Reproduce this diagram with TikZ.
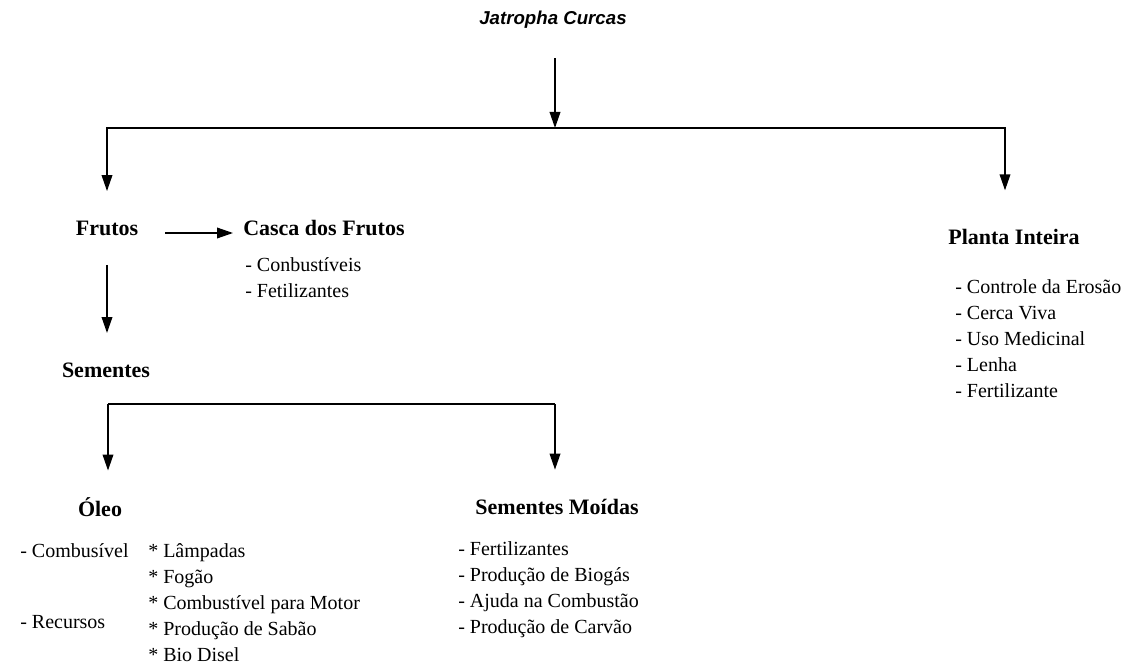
\documentclass[tikz,border=0pt]{standalone}
\usepackage{fontspec}
\setmainfont{Liberation Serif}
\newfontfamily\titlefont{Liberation Sans}
\usetikzlibrary{arrows.meta}

\tikzset{
  head/.style={inner sep=0pt, font=\fontsize{16.5}{19.5}\selectfont\bfseries},
  items/.style={inner sep=0pt, align=left, anchor=north west, font=\fontsize{15}{19.5}\selectfont},
  arr/.style={line width=1.1pt, -{Triangle[length=12pt,width=8pt]}},
  ln/.style={line width=1.1pt}
}

\begin{document}
\begin{tikzpicture}[x=0.75pt,y=-0.75pt]
  \useasboundingbox (0,0) rectangle (1127,666);

  % headings
  \node[inner sep=0pt,font=\titlefont\fontsize{14}{16}\selectfont\bfseries\itshape] (title) at (553,20) {Jatropha Curcas};
  \node[head] (frutos) at (107,228) {Frutos};
  \node[head, anchor=west] (casca) at (243,228) {Casca dos Frutos};
  \node[head] (planta) at (1014,237) {Planta Inteira};
  \node[head] (sementes) at (106,370) {Sementes};
  \node[head] (oleo) at (100,507) {Óleo};
  \node[head] (moidas) at (557,507) {Sementes Moídas};

  % lists
  \node[items] (cascalist) at (245,257) {- Conbustíveis\\- Fetilizantes};
  \node[items] (plantalist) at (955,279) {- Controle da Erosão\\- Cerca Viva\\- Uso Medicinal\\- Lenha\\- Fertilizante};
  \node[items] (combus) at (20,543) {- Combusível};
  \node[items] (recursos) at (20,615) {- Recursos};
  \node[items] (oleolist) at (148,543) {* Lâmpadas\\* Fogão\\* Combustível para Motor\\* Produção de Sabão\\* Bio Disel};
  \node[items] (moidaslist) at (458,541) {- Fertilizantes\\- Produção de Biogás\\- Ajuda na Combustão\\- Produção de Carvão};

  % junctions
  \coordinate (top) at (555,128);
  \coordinate (sl) at (108,404);
  \coordinate (sr) at (555,404);

  \draw[arr, shorten <=22pt] (title.south -| top) -- (top);
  \draw[arr, shorten >=22pt] (top) -| (frutos.north);
  \draw[arr, shorten >=29pt] (top) -| ([xshift=-6.75pt]planta.north);
  \draw[arr, shorten <=20pt, shorten >=7.5pt] ([yshift=-3.75pt]frutos.east) -- ([yshift=-3.75pt]casca.west);
  \draw[arr, shorten <=22pt, shorten >=22pt] (frutos.south) -- (sementes.north -| frutos.south);
  \draw[ln] (sl) -- (sr);
  \draw[arr, shorten >=20pt] (sl) -- (sl |- oleo.north);
  \draw[arr, shorten >=22pt] (sr) -- (sr |- moidas.north);
\end{tikzpicture}
\end{document}
